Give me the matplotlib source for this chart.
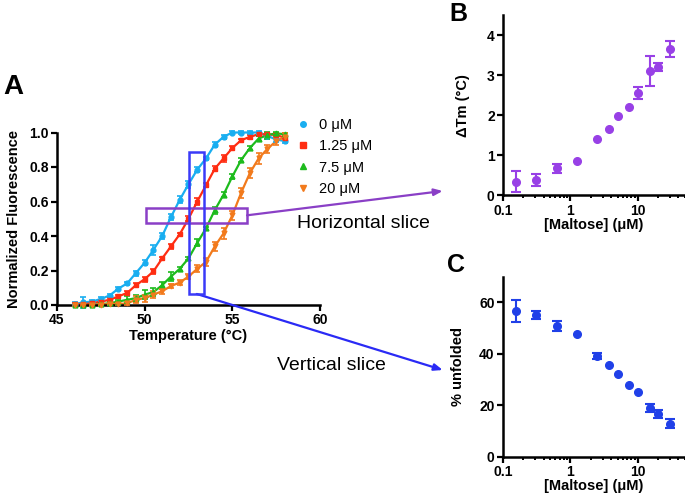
import matplotlib
matplotlib.use("Agg")
import numpy as np
from matplotlib import pyplot as plt
from matplotlib.patches import Rectangle
from matplotlib.lines import Line2D
from matplotlib.ticker import LogLocator, NullFormatter, FixedLocator

plt.rcParams["font.family"] = ["Liberation Sans", "DejaVu Sans"]

# ---- panel A: melt curves ----
temps = [46.0, 46.5, 47.0, 47.5, 48.0, 48.5, 49.0, 49.5, 50.0, 50.5, 51.0, 51.5,
         52.0, 52.5, 53.0, 53.5, 54.0, 54.5, 55.0, 55.5, 56.0, 56.5, 57.0, 57.5, 58.0]
series_labels = ["0 \u03bcM", "1.25 \u03bcM", "7.5 \u03bcM", "20 \u03bcM"]
fluor_0 = [0.005, 0.015, 0.02, 0.035, 0.055, 0.095, 0.125, 0.185, 0.245, 0.32, 0.40, 0.51,
           0.61, 0.70, 0.785, 0.85, 0.93, 0.975, 1.0, 1.0, 1.0, 1.0, 0.98, 0.96, 0.95]
fluor_125 = [0.005, 0.005, 0.01, 0.02, 0.03, 0.05, 0.07, 0.115, 0.15, 0.195, 0.27, 0.34,
             0.41, 0.50, 0.60, 0.695, 0.79, 0.85, 0.91, 0.955, 0.975, 0.99, 0.99, 0.985, 0.97]
fluor_75 = [0.0, 0.0, 0.0, 0.005, 0.01, 0.02, 0.03, 0.04, 0.06, 0.075, 0.115, 0.165,
            0.21, 0.27, 0.36, 0.445, 0.55, 0.64, 0.745, 0.84, 0.91, 0.965, 0.985, 0.995, 0.99]
fluor_20 = [0.0, 0.0, 0.0, 0.002, 0.005, 0.005, 0.01, 0.03, 0.04, 0.06, 0.08, 0.11,
            0.13, 0.165, 0.21, 0.25, 0.34, 0.415, 0.52, 0.65, 0.765, 0.85, 0.905, 0.95, 0.975]
err_0 = [0.01, 0.03, 0.01, 0.01, 0.01, 0.01, 0.01, 0.015, 0.015, 0.03, 0.02, 0.02,
         0.02, 0.02, 0.015, 0.01, 0.015, 0.01, 0.01, 0.01, 0.01, 0.01, 0.015, 0.015, 0.01]
err_125 = [0.005, 0.005, 0.005, 0.01, 0.01, 0.01, 0.01, 0.01, 0.015, 0.015, 0.01, 0.015,
           0.01, 0.015, 0.02, 0.01, 0.015, 0.02, 0.01, 0.01, 0.01, 0.01, 0.01, 0.01, 0.01]
err_75 = [0.005, 0.005, 0.005, 0.005, 0.01, 0.01, 0.02, 0.02, 0.025, 0.025, 0.02, 0.025,
          0.01, 0.01, 0.02, 0.01, 0.02, 0.015, 0.015, 0.01, 0.01, 0.015, 0.02, 0.01, 0.01]
err_20 = [0.005, 0.005, 0.005, 0.005, 0.005, 0.005, 0.01, 0.02, 0.02, 0.02, 0.015, 0.01,
          0.015, 0.015, 0.02, 0.025, 0.025, 0.03, 0.025, 0.03, 0.03, 0.03, 0.025, 0.02, 0.02]

# ---- panels B and C ----
maltose = [0.156, 0.3125, 0.625, 1.25, 2.5, 3.75, 5, 7.5, 10, 15, 20, 30]
delta_tm = [0.34, 0.38, 0.67, 0.86, 1.41, 1.66, 1.99, 2.2, 2.55, 3.11, 3.2, 3.64]
delta_tm_err = [0.26, 0.15, 0.12, 0.0, 0.0, 0.0, 0.0, 0.0, 0.15, 0.37, 0.1, 0.2]
unfolded = [56.6, 55.2, 50.8, 47.9, 39.2, 35.5, 32.0, 27.9, 25.0, 19.0, 16.5, 12.9]
unfolded_err = [4.4, 1.5, 1.8, 0.0, 1.2, 0.0, 0.0, 0.0, 0.0, 1.5, 1.5, 1.8]

colors = ["#19aef0", "#ff2d12", "#1dbb1d", "#f27a1c"]
markers = ["o", "s", "^", "v"]
purple = "#9840e6"
blue = "#2040e8"

W, H = 685, 495
fig = plt.figure(figsize=(6.85, 4.95), dpi=100)


def px_axes(left, top, right, bottom):
    return fig.add_axes([left / W, 1 - bottom / H, (right - left) / W, (bottom - top) / H])


def style(ax):
    for s in ["top", "right"]:
        ax.spines[s].set_visible(False)
    for s in ["left", "bottom"]:
        ax.spines[s].set_linewidth(1.8)
    ax.tick_params(which="major", direction="out", width=1.6, length=4.5,
                   labelsize=10, pad=1.5)
    ax.tick_params(which="minor", direction="out", width=1.4, length=2.5)
    for lbl in ax.get_xticklabels() + ax.get_yticklabels():
        lbl.set_fontweight("bold")


# panel A
axA = px_axes(57, 132.5, 320, 305)
all_f = [fluor_0, fluor_125, fluor_75, fluor_20]
all_e = [err_0, err_125, err_75, err_20]
for f, e, c, m in zip(all_f, all_e, colors, markers):
    axA.plot(temps, f, "-", color=c, lw=1.6, clip_on=False, zorder=2)
    axA.errorbar(temps, f, yerr=e, fmt=m, color=c, ms=3.5, elinewidth=1.2,
                 capsize=2.5, capthick=1.2, clip_on=False, zorder=3)
axA.set_xlim(45, 60)
axA.set_ylim(0, 1.0)
axA.set_xticks([45, 50, 55, 60])
axA.set_yticks([0.0, 0.2, 0.4, 0.6, 0.8, 1.0])
axA.set_yticklabels(["0.0", "0.2", "0.4", "0.6", "0.8", "1.0"])
style(axA)
axA.set_xlabel("Temperature (\u00b0C)", fontsize=10.5, fontweight="bold", labelpad=1)
axA.set_ylabel("Normalized Fluorescence", fontsize=10.5, fontweight="bold", labelpad=6)

handles = [Line2D([], [], ls="none", marker=m, color=c, ms=4) for c, m in zip(colors, markers)]
fig.legend(handles, series_labels, loc="upper left", bbox_to_anchor=(297 / W, 1 - 118 / H),
           frameon=False, fontsize=10.5, handlelength=0.8, handletextpad=0.7,
           labelspacing=0.5, borderpad=0, borderaxespad=0)

# slice boxes
axA.add_patch(Rectangle((50.07, 0.478), 5.77, 0.083, fill=False, ec="#8a3fc6", lw=1.8,
                        clip_on=False, zorder=5))
axA.add_patch(Rectangle((52.55, 0.064), 0.85, 0.822, fill=False, ec="#3a3af8", lw=1.8,
                        clip_on=False, zorder=5))
axA.annotate("", xy=(442.7 / W, 1 - 191 / H), xycoords="figure fraction",
             xytext=(55.84, 0.52), textcoords="data", annotation_clip=False,
             arrowprops=dict(arrowstyle="-|>,head_length=0.5,head_width=0.2",
                             color="#8a3fc6", lw=1.6, shrinkA=0, shrinkB=0))
axA.annotate("", xy=(442.7 / W, 1 - 370 / H), xycoords="figure fraction",
             xytext=(52.97, 0.064), textcoords="data", annotation_clip=False,
             arrowprops=dict(arrowstyle="-|>,head_length=0.5,head_width=0.2",
                             color="#2a2af5", lw=1.6, shrinkA=0, shrinkB=0))
fig.text(297 / W, 1 - 228 / H, "Horizontal slice", fontsize=14, ha="left", va="baseline")
fig.text(277 / W, 1 - 370.5 / H, "Vertical slice", fontsize=14, ha="left", va="baseline")


def dose_axes(ax, y, yerr, color):
    x = np.array(maltose)
    y = np.array(y)
    yerr = np.array(yerr)
    has_err = yerr > 0
    ax.plot(x, y, "o", color=color, ms=5.5, clip_on=False, zorder=3)
    ax.errorbar(x[has_err], y[has_err], yerr=yerr[has_err], fmt="none", ecolor=color,
                elinewidth=1.5, capsize=3.5, capthick=1.5, clip_on=False, zorder=3)
    ax.set_xscale("log")
    ax.set_xlim(0.1, 50)
    ax.xaxis.set_major_locator(FixedLocator([0.1, 1, 10]))
    ax.xaxis.set_minor_locator(LogLocator(base=10, subs=range(2, 10)))
    ax.xaxis.set_minor_formatter(NullFormatter())
    ax.set_xticklabels(["0.1", "1", "10"])
    style(ax)
    ax.set_xlabel("[Maltose] (\u03bcM)", fontsize=10.5, fontweight="bold", labelpad=0)


# panel B
axB = px_axes(503, 15, 685, 195.3)
dose_axes(axB, delta_tm, delta_tm_err, purple)
axB.set_ylim(0, 4.5)
axB.set_yticks([0, 1, 2, 3, 4])
style(axB)
axB.set_ylabel("\u0394Tm (\u00b0C)", fontsize=10.5, fontweight="bold", labelpad=12)

# panel C
axC = px_axes(503, 276.7, 685, 456.7)
dose_axes(axC, unfolded, unfolded_err, blue)
axC.set_ylim(0, 70)
axC.set_yticks([0, 20, 40, 60])
style(axC)
axC.set_ylabel("% unfolded", fontsize=10.5, fontweight="bold", labelpad=10)

fig.text(3 / W, 1 - 94 / H, "A", fontsize=20, fontweight="bold", ha="left", va="baseline")
fig.text(449 / W, 1 - 21 / H, "B", fontsize=18, fontweight="bold", ha="left", va="baseline")
fig.text(447 / W, 1 - 272 / H, "C", fontsize=18, fontweight="bold", ha="left", va="baseline")

fig.savefig("out.png", dpi=100)
